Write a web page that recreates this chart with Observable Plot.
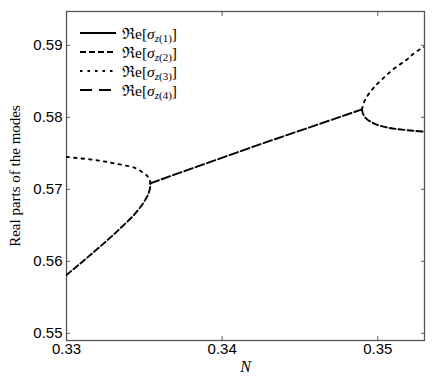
<!DOCTYPE html>
<html>
<head>
<meta charset="utf-8">
<script src="https://cdn.jsdelivr.net/npm/d3@7"></script>
<script src="https://cdn.jsdelivr.net/npm/@observablehq/plot@0.6"></script>
<style>
  html, body { margin: 0; padding: 0; background: #fff; }
  #wrap { position: relative; width: 436px; height: 382px; }
  #legend { position: absolute; left: 78px; top: 23px; font-family: "Liberation Serif", "DejaVu Serif", serif; font-size: 15.5px; color: #000; }
  #legend .row { display: flex; align-items: center; height: 19px; }
  #legend svg { margin-right: 6px; }
  #legend sub { font-size: 11px; vertical-align: -3px; line-height: 0; }
</style>
</head>
<body>
<div id="wrap"></div>
<script>
// Branch σz(2) (dashed), left part, below the first bifurcation
const nS2Left  = [0.33, 0.33175, 0.33325, 0.33454, 0.33522, 0.33535, 0.33539];
const reS2Left = [0.5581, 0.56128, 0.56416, 0.56696, 0.5692, 0.57000, 0.57084];
// Branch σz(3) (dotted), left part, above the first bifurcation
const nS3Left  = [0.33, 0.33175, 0.33325, 0.33411, 0.33492, 0.33535, 0.33539];
const reS3Left = [0.5745, 0.57409, 0.57353, 0.57315, 0.57232, 0.5713, 0.57084];
// Merged modes between the two bifurcations
const nMid  = [0.33539, 0.342, 0.34898];
const reMid = [0.57084, 0.57593, 0.5811];
// Branch σz(3) (dotted), right part, going up
const nS3Right  = [0.34898, 0.34919, 0.34973, 0.35037, 0.35112, 0.35187, 0.35251, 0.353];
const reS3Right = [0.5811, 0.58245, 0.58409, 0.58548, 0.58688, 0.58803, 0.58919, 0.5898];
// Branch σz(2) (dashed), right part, going down
const nS2Right  = [0.34898, 0.34908, 0.34951, 0.35015, 0.35122, 0.35283, 0.353];
const reS2Right = [0.5811, 0.58036, 0.57943, 0.57883, 0.57837, 0.57803, 0.578];

const xTicks = [0.33, 0.34, 0.35];
const yTicks = [0.55, 0.56, 0.57, 0.58, 0.59];
const legendLabels = ["1", "2", "3", "4"];

const toRows = (xs, ys) => xs.map((x, i) => ({x, y: ys[i]}));

const dashS2 = "6,3";
const dashS3 = "2.5,5";
const dashMid = "9,3";
const dashS4 = "12,7";

const lineOpts = (dash, curve) => ({x: "x", y: "y", stroke: "#000", strokeWidth: 1.9, strokeDasharray: dash, curve, clip: true});

const tickFont = {fontFamily: "Liberation Sans, Arial, sans-serif", fontSize: 15};

const chart = Plot.plot({
  width: 436,
  height: 382,
  marginLeft: 66,
  marginRight: 12,
  marginTop: 11,
  marginBottom: 42,
  style: {background: "#fff", fontFamily: "Liberation Sans, Arial, sans-serif", fontSize: "15px", color: "#000"},
  x: {domain: [0.33, 0.353]},
  y: {domain: [0.549, 0.5947]},
  marks: [
    Plot.frame({stroke: "#555", strokeWidth: 1.3}),
    Plot.line(toRows(nS2Left, reS2Left), lineOpts(dashS2, "monotone-y")),
    Plot.line(toRows(nS3Left, reS3Left), lineOpts(dashS3, "monotone-y")),
    Plot.line(toRows(nMid, reMid), lineOpts(dashMid, "linear")),
    Plot.line(toRows(nS3Right, reS3Right), lineOpts(dashS3, "monotone-y")),
    Plot.line(toRows(nS2Right, reS2Right), lineOpts(dashS2, "monotone-y")),
    // inward ticks on all four sides
    Plot.axisX(xTicks, {anchor: "bottom", tickSize: -4, text: null, stroke: "#555", label: null}),
    Plot.axisX(xTicks, {anchor: "top", tickSize: -4, text: null, stroke: "#555", label: null}),
    Plot.axisY(yTicks, {anchor: "left", tickSize: -4, text: null, stroke: "#555", label: null}),
    Plot.axisY(yTicks, {anchor: "right", tickSize: -4, text: null, stroke: "#555", label: null}),
    // tick labels
    Plot.axisX(xTicks, {anchor: "bottom", tickSize: 0, tickPadding: 3, tickFormat: d3.format(".2f"), label: null, fill: "#000", ...tickFont}),
    Plot.axisY(yTicks, {anchor: "left", tickSize: 0, tickPadding: 4, tickFormat: d3.format(".2f"), label: null, fill: "#000", ...tickFont}),
    // axis titles
    Plot.text(["N"], {frameAnchor: "bottom", dy: 31, fontStyle: "italic", fontFamily: "Liberation Serif, DejaVu Serif, serif", fontSize: 16, fill: "#000"}),
    Plot.text(["Real parts of the modes"], {frameAnchor: "left", textAnchor: "middle", dx: -51, rotate: -90, fontFamily: "Liberation Serif, DejaVu Serif, serif", fontSize: 15, fill: "#000"})
  ]
});

const wrap = document.getElementById("wrap");
wrap.appendChild(chart);

const legend = document.createElement("div");
legend.id = "legend";
const dashes = [null, dashS2, dashS3, dashS4];
legendLabels.forEach((lab, i) => {
  const row = document.createElement("div");
  row.className = "row";
  const dash = dashes[i] ? `stroke-dasharray="${dashes[i]}"` : "";
  row.innerHTML = `<svg width="38" height="10"><line x1="2" y1="5" x2="38" y2="5" stroke="#000" stroke-width="1.8" ${dash}/></svg>` +
    `<span>ℜe[<i>σ</i><sub><i>z</i>(${lab})</sub>]</span>`;
  legend.appendChild(row);
});
wrap.appendChild(legend);
</script>
</body>
</html>
